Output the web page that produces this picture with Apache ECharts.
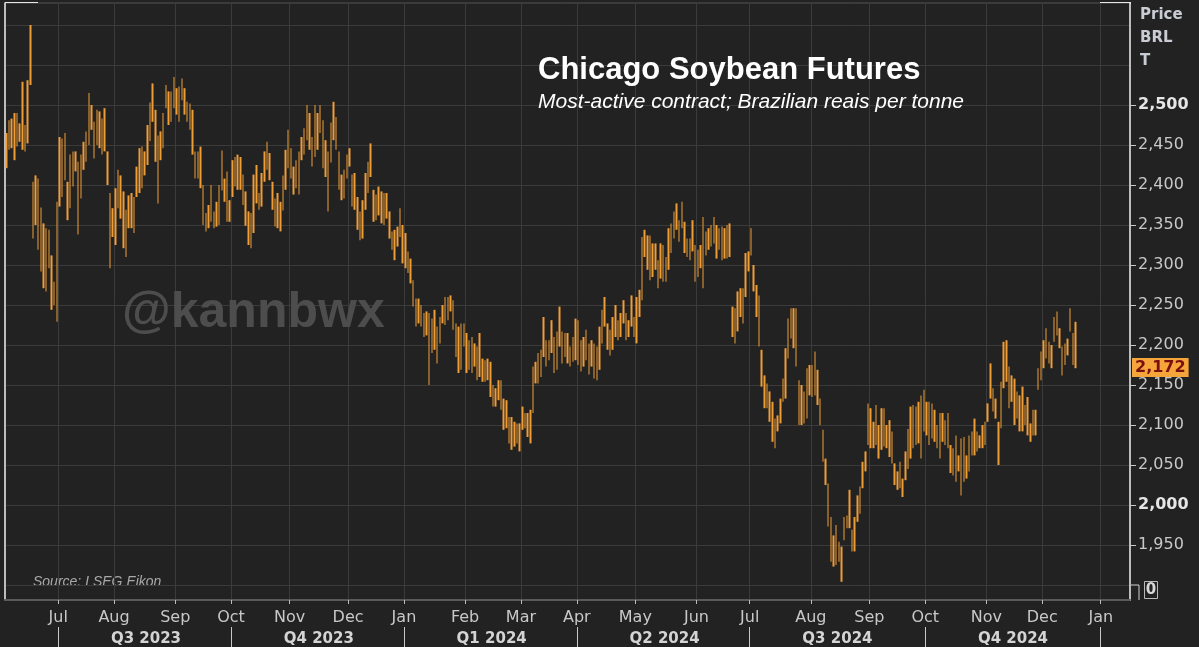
<!DOCTYPE html>
<html><head><meta charset="utf-8">
<script src="https://cdn.jsdelivr.net/npm/echarts@6/dist/echarts.min.js"></script>
<style>html,body{margin:0;padding:0;background:#222222;}#chart{width:1199px;height:647px;}</style>
</head><body><div id="chart"></div>
<script>
// ---- axis definition ----
const START_DATE = '2023-06-05';   // first weekday on the axis
const AXIS_DAYS = 423;              // weekdays shown (to mid-Jan 2025)
const monthNames = ['Jan','Feb','Mar','Apr','May','Jun','Jul','Aug','Sep','Oct','Nov','Dec'];
const yTickValues = [1950,2000,2050,2100,2150,2200,2250,2300,2350,2400,2450,2500];
const boldTicks = [2000,2500];
const lastPrice = 2172;

// ---- daily high / low (BRL per tonne) ----
const highs = [
2465,2481,2483,2490,2490,2477,2529,2475,2531,2600,
2404,2412,2408,2372,2352,2346,2344,2312,2279,2379,
2460,2458,2465,2404,2438,2442,2442,2429,2438,2454,
2467,2515,2500,2479,2494,2492,2483,2496,2442,2390,
2371,2396,2419,2412,2392,2369,2387,2390,2385,2423,
2446,2448,2442,2475,2503,2527,2494,2462,2467,2490,
2525,2517,2517,2535,2521,2523,2533,2521,2504,2502,
2494,2442,2442,2448,2400,2365,2375,2400,2367,2379,
2400,2443,
2408,2417,2381,2431,2435,2438,2435,2413,2392,2367,
2365,2413,2425,2390,2415,2442,2454,2440,2404,2383,
2390,2379,2412,2444,2469,2446,2423,2431,2442,2460,
2471,2500,2490,2460,2500,2490,2500,2481,2456,2442,
2478,2504,2485,2442,2413,2419,2438,2446,2413,2415,
2385,2367,2381,2415,2429,2452,2394,2388,2398,2392,
2390,2390,2367,2342,2344,2348,2371,2350,2340,2317,
2308,2281,2258,2258,2250,2240,2242,2240,2233,2244,
2223,2235,2250,2260,
2260,2262,2256,2227,2223,2227,2227,2215,2206,2210,
2202,2198,2215,2183,2181,2183,2179,2150,2146,2156,
2156,2133,2131,2110,2110,2104,2102,2102,2123,2115,
2115,2119,2173,2179,2190,2194,2235,2206,2206,2231,
2210,2217,2248,2217,2215,2215,2198,2210,2233,2231,
2206,2210,2219,2202,2206,2202,2198,2223,2244,2260,
2227,2219,2235,2250,2231,2240,2256,2240,2231,2262,
2235,2260,2269,2335,2344,2337,2337,2327,2327,2306,
2327,
2325,2310,2346,2352,2367,2377,2356,2379,2354,2333,
2333,2356,2325,2319,2325,2360,2342,2346,2350,2360,
2350,2346,2348,2346,2350,2352,2248,2246,2267,2271,
2271,2315,2317,2346,2300,2275,2262,2194,2162,2152,
2142,2129,2108,2112,2133,2158,2196,2233,2246,2246,
2246,2156,2150,2142,2171,2175,2175,2192,2169,2133,
2094,2058,2027,1985,1962,1975,1954,1948,1985,1987,
2019,1969,1985,2012,2023,2054,2067,2127,2121,2104,
2125,2100,2121,
2121,2100,2106,2092,2052,2042,2054,2033,2067,2095,
2123,2125,2123,2129,2137,2144,2129,2129,2127,2119,
2100,2115,2115,2106,2115,2075,2071,2087,2062,2083,
2085,2062,2087,2092,2108,2092,2087,2100,2104,2127,
2177,2146,2133,2104,2154,2204,2206,2173,2162,2158,
2142,2137,2148,2125,2135,2102,2119,2119,2171,2192,
2206,2221,2204,2200,2235,2242,2221,2198,2202,2208,
2246,2215,2229
];
const lows = [
2421,2444,2446,2431,2448,2454,2444,2442,2452,2525,
2333,2350,2319,2292,2271,2267,2296,2244,2250,2229,
2373,2385,2406,2356,2371,2398,2417,2338,2383,2419,
2429,2450,2469,2433,2450,2446,2438,2442,2400,2296,
2335,2325,2371,2358,2321,2310,2346,2346,2340,2385,
2390,2396,2412,2425,2455,2479,2429,2377,2431,2446,
2496,2475,2479,2496,2488,2479,2506,2488,2479,2469,
2438,2408,2408,2396,2350,2342,2346,2354,2346,2348,
2350,2393,
2379,2354,2354,2385,2398,2394,2394,2375,2349,2325,
2321,2340,2377,2369,2373,2404,2419,2406,2369,2348,
2346,2342,2368,2394,2421,2408,2388,2396,2388,2431,
2438,2456,2444,2423,2435,2444,2465,2421,2410,2367,
2428,2456,2444,2394,2381,2383,2408,2423,2373,2369,
2344,2331,2333,2369,2390,2410,2354,2356,2362,2352,
2350,2358,2333,2319,2306,2323,2335,2302,2296,2290,
2277,2248,2223,2227,2223,2210,2212,2150,2190,2194,
2177,2202,2227,2225,
2231,2242,2219,2185,2165,2169,2198,2165,2169,2165,
2173,2156,2160,2154,2154,2156,2135,2123,2123,2131,
2119,2094,2096,2077,2069,2073,2077,2067,2094,2096,
2085,2077,2115,2152,2152,2160,2185,2173,2181,2190,
2165,2169,2198,2177,2185,2177,2173,2179,2181,2175,
2167,2173,2181,2163,2173,2158,2156,2169,2202,2223,
2194,2187,2194,2210,2206,2210,2227,2206,2210,2223,
2210,2202,2235,2256,2310,2294,2281,2285,2294,2271,
2283,
2279,2279,2294,2315,2333,2344,2329,2346,2315,2310,
2306,2317,2279,2285,2296,2271,2312,2319,2323,2327,
2308,2319,2306,2308,2308,2310,2210,2202,2217,2235,
2227,2260,2292,2312,2267,2235,2198,2148,2121,2121,
2104,2079,2071,2092,2102,2129,2133,2183,2208,2196,
2173,2100,2100,2102,2108,2137,2135,2137,2125,2100,
2054,2025,1973,1929,1923,1925,1929,1904,1956,1971,
1971,1942,1942,1979,1989,2021,2042,2075,2071,2071,
2075,2058,2069,
2073,2071,2060,2052,2025,2019,2021,2010,2031,2045,
2058,2071,2075,2077,2058,2092,2087,2075,2083,2079,
2071,2058,2079,2075,2071,2040,2037,2029,2042,2012,
2029,2033,2042,2062,2062,2067,2071,2071,2075,2104,
2133,2117,2108,2050,2096,2146,2154,2121,2129,2100,
2108,2092,2092,2100,2087,2079,2087,2087,2144,2156,
2171,2183,2177,2171,2204,2212,2196,2162,2175,2187,
2217,2175,2171
];

// ---- build weekday categories (one extra for the boundary axes) ----
const allDates = [];
let cur = new Date(START_DATE + 'T00:00:00Z');
while (allDates.length < AXIS_DAYS + 1) {
  const wd = cur.getUTCDay();
  if (wd !== 0 && wd !== 6) allDates.push(cur.toISOString().slice(0, 10));
  cur = new Date(cur.getTime() + 86400000);
}
const dates = allDates.slice(0, AXIS_DAYS);
const isMonthStart = allDates.map((s, i) => i > 0 && s.slice(5, 7) !== allDates[i - 1].slice(5, 7));
const quarterStarts = [];
allDates.forEach((s, i) => { if (isMonthStart[i] && [1,4,7,10].includes(+s.slice(5,7))) quarterStarts.push(i); });
const quarterLabelAt = {};
for (let k = 0; k < quarterStarts.length - 1; k++) {
  const a = quarterStarts[k], b = quarterStarts[k + 1];
  const m = +allDates[a].slice(5, 7);
  quarterLabelAt[Math.round((a + b) / 2)] = 'Q' + ((m - 1) / 3 + 1) + ' ' + allDates[a].slice(0, 4);
}
const candle = highs.map((h, i) => [lows[i], h, lows[i], h]);

const fmt = v => Math.round(v).toLocaleString('en-US');
const ORANGE = '#ee9d37';
const LABEL = '#c8c8c8';
const FONT = 'DejaVu Sans';

const chart = echarts.init(document.getElementById('chart'), null, {renderer: 'canvas'});
chart.setOption({
  backgroundColor: '#222222',
  animation: false,
  title: {
    text: 'Chicago Soybean Futures',
    subtext: 'Most-active contract; Brazilian reais per tonne',
    left: 533, top: 50, itemGap: 6,
    textStyle: {color: '#ffffff', fontSize: 31, fontWeight: 'bold', fontFamily: 'Liberation Sans'},
    subtextStyle: {color: '#ffffff', fontSize: 21, fontStyle: 'italic', fontFamily: 'Liberation Sans'}
  },
  grid: {left: 5, right: 69, top: 3, bottom: 47, show: true, borderColor: '#555555', borderWidth: 1, backgroundColor: '#222222'},
  xAxis: [{
    // data axis (one band per weekday)
    type: 'category', data: dates, boundaryGap: true, position: 'bottom',
    axisLine: {show: false}, axisTick: {show: false}, axisLabel: {show: false}, splitLine: {show: false}
  }, {
    // month boundaries
    type: 'category', data: allDates, boundaryGap: false, position: 'bottom',
    axisLine: {show: true, lineStyle: {color: '#5a5a5a', width: 2}},
    axisTick: {show: true, length: 4, interval: (i) => isMonthStart[i], lineStyle: {color: '#bbbbbb'}},
    axisLabel: {
      interval: (i) => isMonthStart[i], margin: 10, color: LABEL, fontSize: 16, fontFamily: FONT,
      formatter: (v) => monthNames[+v.slice(5, 7) - 1]
    },
    splitLine: {show: true, interval: (i) => isMonthStart[i], lineStyle: {color: '#3b3b3b', width: 1}}
  }, {
    // quarters
    type: 'category', data: allDates, boundaryGap: false, position: 'bottom', offset: 27,
    axisLine: {show: false},
    axisTick: {show: true, length: 20, interval: (i) => quarterStarts.includes(i), lineStyle: {color: '#c8c8c8', width: 1}},
    axisLabel: {
      interval: (i) => quarterLabelAt[i] !== undefined, margin: 5, color: '#d4d4d4', fontSize: 15, fontWeight: 'bold', fontFamily: FONT,
      formatter: (v, i) => quarterLabelAt[i] || ''
    },
    splitLine: {show: false}
  }],
  yAxis: [{
    type: 'value', position: 'right', min: 1881.25, max: 2627.5, splitNumber: 15,
    axisLine: {show: true, lineStyle: {color: '#e8e8e8', width: 1.5}},
    axisTick: {show: true, length: 6, customValues: yTickValues, lineStyle: {color: '#c8c8c8'}},
    axisLabel: {
      customValues: yTickValues, margin: 8, color: LABEL, fontSize: 16, fontFamily: FONT,
      formatter: (v) => boldTicks.includes(v) ? '{b|' + fmt(v) + '}' : fmt(v),
      rich: {b: {fontWeight: 'bold', color: '#e6e6e6', fontSize: 16, fontFamily: FONT}}
    },
    splitLine: {show: false}
  }, {
    type: 'value', position: 'left', min: 1881.25, max: 2627.5, splitNumber: 15,
    axisLine: {show: true, lineStyle: {color: '#e8e8e8', width: 1.5}},
    axisTick: {show: false}, axisLabel: {show: false},
    splitLine: {show: true, lineStyle: {color: '#3b3b3b', width: 1}}
  }],
  series: [{
    type: 'candlestick', xAxisIndex: 0, yAxisIndex: 0, data: candle, barWidth: 2,
    itemStyle: {color: ORANGE, color0: ORANGE, borderColor: ORANGE, borderColor0: ORANGE, borderWidth: 0},
    markLine: {
      silent: true, symbol: ['none', 'none'],
      lineStyle: {color: 'rgba(0,0,0,0)', width: 0},
      label: {
        show: true, position: 'end', distance: 2, formatter: () => fmt(lastPrice),
        backgroundColor: '#f6a53a', color: '#7a0f0f', fontWeight: 'bold', fontSize: 16, fontFamily: FONT,
        padding: [2, 3, 1, 3]
      },
      data: [{yAxis: lastPrice}]
    }
  }],
  graphic: [
    {type: 'text', left: 122, top: 288, z: 1, silent: true,
     style: {text: '@kannbwx', fill: '#4d4d4d', font: 'bold 50px "Liberation Sans"'}},
    {type: 'text', left: 33, top: 575, style: {text: 'Source: LSEG Eikon', fill: '#a8a8a8', font: 'italic 14px "Liberation Sans"'}},
    {type: 'text', left: 1140, top: 4, style: {text: 'Price\nBRL\nT', fill: '#c9ccd4', font: 'bold 15px "DejaVu Sans"', lineHeight: 23}},
    {type: 'rect', shape: {x: 1144.5, y: 581.5, width: 13, height: 17}, style: {fill: 'none', stroke: '#bbbbbb', lineWidth: 1}},
    {type: 'text', style: {x: 1151, y: 590, text: '0', fill: '#d8d8d8', font: 'bold 15px "DejaVu Sans"', align: 'center', verticalAlign: 'middle'}},
    {type: 'polyline', shape: {points: [[1131, 585], [1139, 585], [1139, 600]]}, style: {stroke: '#d0d0d0', lineWidth: 1, fill: null}},
    {type: 'line', shape: {x1: 5, y1: 3, x2: 38, y2: 3}, style: {stroke: '#e8e8e8', lineWidth: 2}},
    {type: 'line', shape: {x1: 5, y1: 600, x2: 38, y2: 600}, style: {stroke: '#e8e8e8', lineWidth: 2}},
    {type: 'line', shape: {x1: 1100, y1: 3, x2: 1131, y2: 3}, style: {stroke: '#e8e8e8', lineWidth: 2}},
    {type: 'line', shape: {x1: 1100, y1: 600, x2: 1131, y2: 600}, style: {stroke: '#e8e8e8', lineWidth: 2}}
  ]
});
</script></body></html>
